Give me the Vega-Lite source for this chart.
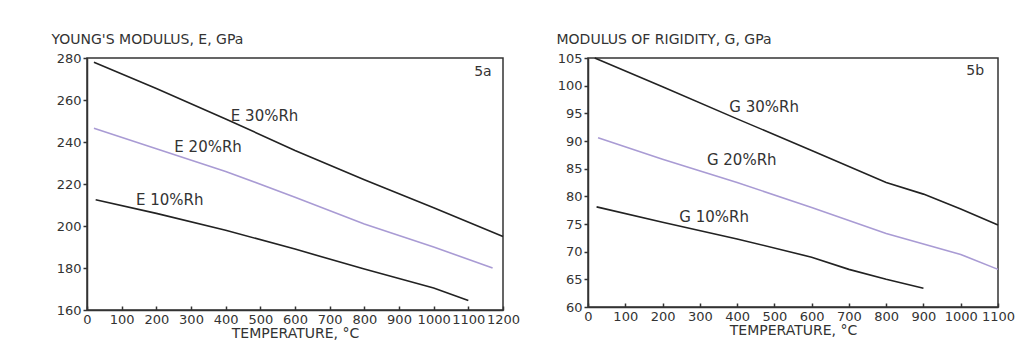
{
  "$schema": "https://vega.github.io/schema/vega-lite/v6.json",
  "background": "white",
  "padding": {"left": 50, "top": 31, "right": 5, "bottom": 5},
  "bounds": "flush",
  "spacing": 85,
  "config": {
    "font": "DejaVu Sans",
    "view": {"stroke": "#333", "strokeWidth": 1.5},
    "axis": {
      "grid": false,
      "domainColor": "#333",
      "domainWidth": 1.5,
      "tickColor": "#333",
      "tickWidth": 1.5,
      "labelFont": "DejaVu Sans",
      "labelFontSize": 13,
      "labelColor": "#333",
      "titleFont": "DejaVu Sans",
      "titleFontSize": 14,
      "titleFontWeight": "normal",
      "titleColor": "#333",
      "labelOverlap": false,
      "labelFlush": false
    }
  },
  "hconcat": [
    {
      "width": 416,
      "height": 252,
      "encoding": {
        "x": {"field": "t", "type": "quantitative", "scale": {"domain": [0, 1200], "nice": false},
          "axis": {"values": [0,100,200,300,400,500,600,700,800,900,1000,1100,1200], "format": "d", "tickSize": -4, "labelPadding": 7, "title": "TEMPERATURE, °C", "titlePadding": 0}},
        "y": {"field": "v", "type": "quantitative", "scale": {"domain": [160, 280], "nice": false},
          "axis": {"values": [160,180,200,220,240,260,280], "format": "d", "tickSize": 4, "labelPadding": 2, "title": "YOUNG'S MODULUS, E, GPa", "titleAngle": 0, "titleAlign": "left", "titleBaseline": "alphabetic", "titleX": -36, "titleY": -15}}
      },
      "layer": [
        {
          "data": {"values": [
            {"t": 20, "v": 278, "s": "30"}, {"t": 200, "v": 265.5, "s": "30"}, {"t": 400, "v": 251, "s": "30"}, {"t": 600, "v": 236, "s": "30"}, {"t": 800, "v": 222, "s": "30"}, {"t": 1000, "v": 208.7, "s": "30"}, {"t": 1200, "v": 195, "s": "30"},
            {"t": 20, "v": 246.5, "s": "20"}, {"t": 200, "v": 236.8, "s": "20"}, {"t": 400, "v": 226, "s": "20"}, {"t": 600, "v": 213.7, "s": "20"}, {"t": 800, "v": 201, "s": "20"}, {"t": 1000, "v": 190, "s": "20"}, {"t": 1170, "v": 180, "s": "20"},
            {"t": 25, "v": 212.5, "s": "10"}, {"t": 200, "v": 206, "s": "10"}, {"t": 400, "v": 198, "s": "10"}, {"t": 600, "v": 189, "s": "10"}, {"t": 800, "v": 179.5, "s": "10"}, {"t": 900, "v": 175, "s": "10"}, {"t": 1000, "v": 170.5, "s": "10"}, {"t": 1100, "v": 164.5, "s": "10"}
          ]},
          "mark": {"type": "line", "strokeWidth": 1.6},
          "encoding": {
            "color": {"field": "s", "type": "nominal", "scale": {"domain": ["10", "20", "30"], "range": ["#222222", "#a99bd4", "#222222"]}, "legend": null},
            "detail": {"field": "s"}
          }
        },
        {
          "data": {"values": [
            {"t": 415, "v": 252.5, "label": "E 30%Rh"},
            {"t": 252, "v": 237.5, "label": "E 20%Rh"},
            {"t": 141, "v": 212.5, "label": "E 10%Rh"}
          ]},
          "mark": {"type": "text", "align": "left", "baseline": "middle", "fontSize": 15, "color": "#333", "font": "DejaVu Sans"},
          "encoding": {
            "text": {"field": "label"}
          }
        },
        {
          "data": {"values": [{"t": 1142, "v": 273.2, "label": "5a"}]},
          "mark": {"type": "text", "align": "center", "baseline": "middle", "fontSize": 14, "color": "#333", "font": "DejaVu Sans"},
          "encoding": {
            "text": {"field": "label"}
          }
        }
      ]
    },
    {
      "width": 410,
      "height": 249,
      "encoding": {
        "x": {"field": "t", "type": "quantitative", "scale": {"domain": [0, 1100], "nice": false},
          "axis": {"values": [0,100,200,300,400,500,600,700,800,900,1000,1100], "format": "d", "tickSize": -4, "labelPadding": 7, "title": "TEMPERATURE, °C", "titlePadding": 0}},
        "y": {"field": "v", "type": "quantitative", "scale": {"domain": [60, 105], "nice": false},
          "axis": {"values": [60,65,70,75,80,85,90,95,100,105], "format": "d", "tickSize": 4, "labelPadding": 2, "title": "MODULUS OF RIGIDITY, G, GPa", "titleAngle": 0, "titleAlign": "left", "titleBaseline": "alphabetic", "titleX": -32, "titleY": -15}}
      },
      "layer": [
        {
          "data": {"values": [
            {"t": 18, "v": 105, "s": "30"}, {"t": 200, "v": 99.8, "s": "30"}, {"t": 400, "v": 94, "s": "30"}, {"t": 600, "v": 88.3, "s": "30"}, {"t": 800, "v": 82.5, "s": "30"}, {"t": 900, "v": 80.4, "s": "30"}, {"t": 1000, "v": 77.7, "s": "30"}, {"t": 1100, "v": 74.8, "s": "30"},
            {"t": 27, "v": 90.6, "s": "20"}, {"t": 200, "v": 86.7, "s": "20"}, {"t": 400, "v": 82.5, "s": "20"}, {"t": 600, "v": 78, "s": "20"}, {"t": 800, "v": 73.3, "s": "20"}, {"t": 1000, "v": 69.5, "s": "20"}, {"t": 1100, "v": 66.8, "s": "20"},
            {"t": 23, "v": 78.1, "s": "10"}, {"t": 200, "v": 75.3, "s": "10"}, {"t": 400, "v": 72.3, "s": "10"}, {"t": 600, "v": 69, "s": "10"}, {"t": 700, "v": 66.8, "s": "10"}, {"t": 800, "v": 65, "s": "10"}, {"t": 900, "v": 63.4, "s": "10"}
          ]},
          "mark": {"type": "line", "strokeWidth": 1.6},
          "encoding": {
            "color": {"field": "s", "type": "nominal", "scale": {"domain": ["10", "20", "30"], "range": ["#222222", "#a99bd4", "#222222"]}, "legend": null},
            "detail": {"field": "s"}
          }
        },
        {
          "data": {"values": [
            {"t": 379, "v": 96.1, "label": "G 30%Rh"},
            {"t": 319, "v": 86.5, "label": "G 20%Rh"},
            {"t": 245, "v": 76.2, "label": "G 10%Rh"}
          ]},
          "mark": {"type": "text", "align": "left", "baseline": "middle", "fontSize": 15, "color": "#333", "font": "DejaVu Sans"},
          "encoding": {
            "text": {"field": "label"}
          }
        },
        {
          "data": {"values": [{"t": 1039, "v": 102.6, "label": "5b"}]},
          "mark": {"type": "text", "align": "center", "baseline": "middle", "fontSize": 14, "color": "#333", "font": "DejaVu Sans"},
          "encoding": {
            "text": {"field": "label"}
          }
        }
      ]
    }
  ]
}
